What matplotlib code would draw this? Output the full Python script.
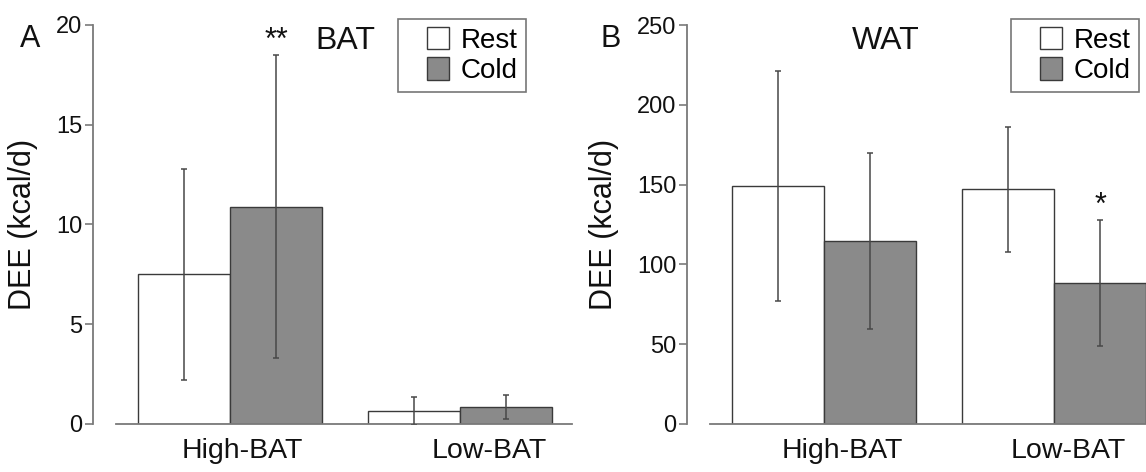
import matplotlib
matplotlib.use("Agg")
import matplotlib.pyplot as plt
from matplotlib.patches import Patch, Rectangle
from matplotlib.legend_handler import HandlerPatch
import numpy as np

plt.rcParams['font.family'] = ['Liberation Sans', 'DejaVu Sans']

groups = ["High-BAT", "Low-BAT"]
series = ["Rest", "Cold"]

bat_rest = [7.5, 0.63]
bat_rest_err = [5.3, 0.70]
bat_cold = [10.9, 0.85]
bat_cold_err = [7.6, 0.62]
bat_sig = ["**", ""]

wat_rest = [149.0, 147.0]
wat_rest_err = [72.0, 39.0]
wat_cold = [114.5, 88.5]
wat_cold_err = [55.0, 39.5]
wat_sig = ["", "*"]

bat_yticks = [0, 5, 10, 15, 20]
wat_yticks = [0, 50, 100, 150, 200, 250]

W, H = 1146, 472
fig = plt.figure(figsize=(W / 100, H / 100), dpi=100)

rest_color = "white"
cold_color = "#8a8a8a"
edge_color = "#3a3a3a"
spine_color = "#7a7a7a"
err_color = "#484848"
text_color = "#111111"

centers = np.array([0.0, 2.5])
bw = 1.0


def square_right(legend, orig_handle, xdescent, ydescent, width, height, fontsize):
    s = height
    return Rectangle((-xdescent + width - s, -ydescent), s, s)


def panel(rect, xlim, rest, rest_err, cold, cold_err, sig, yticks, title, title_x,
          letter, letter_x, legend_right, label_offsets):
    ax = fig.add_axes(rect)
    ax.bar(centers - bw / 2, rest, bw, color=rest_color, edgecolor=edge_color,
           linewidth=1.0, zorder=2)
    ax.bar(centers + bw / 2, cold, bw, color=cold_color, edgecolor=edge_color,
           linewidth=1.0, zorder=2)
    ax.errorbar(centers - bw / 2, rest, yerr=rest_err, fmt="none", ecolor=err_color,
                elinewidth=1.1, capsize=2.5, capthick=1.1, zorder=3)
    ax.errorbar(centers + bw / 2, cold, yerr=cold_err, fmt="none", ecolor=err_color,
                elinewidth=1.1, capsize=2.5, capthick=1.1, zorder=3)
    for i, s in enumerate(sig):
        if s:
            ax.annotate(s, (centers[i] + bw / 2, cold[i] + cold_err[i]),
                        xytext=(0, 4), textcoords="offset points",
                        ha="center", va="baseline", fontsize=22, color=text_color,
                        annotation_clip=False)
    ax.set_xlim(*xlim)
    ax.set_ylim(yticks[0], yticks[-1])
    ax.set_yticks(yticks)
    ax.set_yticklabels([str(t) for t in yticks])
    ax.set_xticks(centers + np.array(label_offsets))
    ax.set_xticklabels(groups)
    ax.tick_params(axis="y", length=6, width=1.2, color=spine_color, pad=1.5,
                   labelsize=17, labelcolor=text_color)
    ax.tick_params(axis="x", length=0, pad=10, labelsize=20.5, labelcolor=text_color)
    for s in ["top", "right"]:
        ax.spines[s].set_visible(False)
    ax.spines["left"].set_color(spine_color)
    ax.spines["bottom"].set_color(spine_color)
    ax.spines["left"].set_linewidth(1.3)
    ax.spines["bottom"].set_linewidth(1.3)
    ax.spines["bottom"].set_bounds(xlim[0] + 0.25, xlim[1])
    ax.set_ylabel("DEE (kcal/d)", fontsize=22, labelpad=13, color=text_color)
    ax.text(title_x, 0.94, title, transform=ax.transAxes, ha="center",
            va="baseline", fontsize=23, color=text_color)
    fig.text(letter_x, 1 - 47 / H, letter, ha="center", va="baseline",
             fontsize=22, color=text_color)
    handles = [Patch(facecolor=rest_color, edgecolor=edge_color, linewidth=1.0),
               Patch(facecolor=cold_color, edgecolor=edge_color, linewidth=1.0)]
    hmap = {h: HandlerPatch(patch_func=square_right) for h in handles}
    leg = ax.legend(handles, series, loc="upper right",
                    bbox_to_anchor=(legend_right, 1 - 19 / H),
                    bbox_transform=fig.transFigure, borderaxespad=0,
                    fontsize=20, handlelength=1.55, handleheight=0.85,
                    handletextpad=0.42, labelspacing=0.12, borderpad=0.3,
                    fancybox=False, frameon=True, handler_map=hmap)
    leg.get_frame().set_edgecolor("#555555")
    leg.get_frame().set_linewidth(1.2)
    return ax


bottom = (H - 424) / H
height = (424 - 25) / H

panel([93 / W, bottom, (572 - 93) / W, height], (-1.49, 3.72),
      bat_rest, bat_rest_err, bat_cold, bat_cold_err, bat_sig, bat_yticks,
      "BAT", 0.527, "A", 30.5 / W, 526 / W, [0.13, 0.32])

panel([687 / W, bottom, (1146 - 687) / W, height], (-1.49, 3.50),
      wat_rest, wat_rest_err, wat_cold, wat_cold_err, wat_sig, wat_yticks,
      "WAT", 0.434, "B", 611 / W, 1139 / W, [0.2, 0.15])

fig.savefig("out.png", dpi=100)
